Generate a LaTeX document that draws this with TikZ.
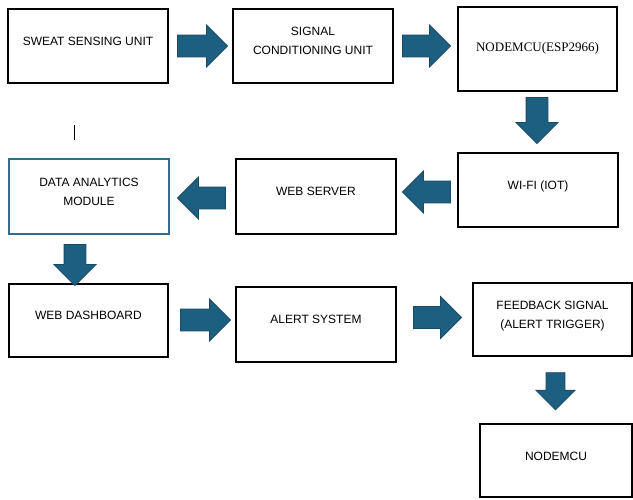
\documentclass[tikz,border=0pt]{standalone}
\usepackage{fontspec}
\setmainfont{Liberation Sans}
\newfontfamily\timesfont{Liberation Serif}
\definecolor{ArrowBlue}{HTML}{1D5F80}
\definecolor{ArrowEdge}{HTML}{174A63}
\definecolor{BoxBlue}{HTML}{2F6E93}
\usetikzlibrary{shapes.arrows}

\begin{document}
\begin{tikzpicture}[x=1pt,y=-1pt,
  box/.style={draw=black,line width=1.1pt,align=center,inner sep=0pt,text depth=10pt,
              minimum width=160pt,minimum height=74pt,font=\fontsize{12}{19}\selectfont},
  blockarrow/.style={single arrow,draw=ArrowEdge,fill=ArrowBlue,line width=0.8pt,
              inner xsep=0pt,inner ysep=10.5pt,minimum width=42pt,minimum height=48pt,
              single arrow head extend=10pt},
  downarrow/.style={blockarrow,inner xsep=10.5pt,inner ysep=0pt,shape border rotate=270}]
\useasboundingbox (0,0) rectangle (633,499);
% first row
\node[box] (sweat) at (88,46) {SWEAT SENSING UNIT};
\node[box] (signal) at (313,46) {SIGNAL\\CONDITIONING UNIT};
\node[box, minimum width=159pt, minimum height=84pt, text depth=4pt, font=\timesfont\fontsize{13}{16}\selectfont] (mcu) at (537.5,49) {NODEMCU(ESP2966)};
% second row
\node[box] (wifi) at (538,190) {WI-FI (IOT)};
\node[box, minimum height=75pt] (server) at (316,196.5) {WEB SERVER};
\node[box, draw=BoxBlue, line width=1.1pt, minimum height=75pt] (analytics) at (89,196.5) {DATA ANALYTICS\\MODULE};
\coordinate (cursor) at (74,125);
\draw[line width=0.7pt] (cursor) -- ++(0,15);
% third row
\node[box, minimum width=159pt, minimum height=73pt] (dashboard) at (88.5,320.5) {WEB DASHBOARD};
\node[box, minimum height=75pt] (alert) at (316,324.5) {ALERT SYSTEM};
\node[box, minimum width=159pt, minimum height=73pt] (feedback) at (552.5,319.5) {FEEDBACK SIGNAL\\(ALERT TRIGGER)};
\node[box, minimum width=152pt, minimum height=73pt, text depth=8pt] (mcutwo) at (556,460.5) {NODEMCU};
% block arrows
\node[blockarrow, minimum height=50pt] (a1) at (197,46) {};
\node[blockarrow] (a2) at (421,46) {};
\node[downarrow, minimum height=46pt, minimum width=40pt] (a3) at (537,115) {};
\node[blockarrow, shape border rotate=180] (a4) at (432,192) {};
\node[blockarrow, shape border rotate=180] (a5) at (207,198) {};
\node[downarrow, minimum height=41pt, minimum width=38pt] (a6) at (75,259.5) {};
\node[blockarrow, minimum height=50pt] (a7) at (200,320) {};
\node[blockarrow] (a8) at (432,317.5) {};
\node[downarrow, minimum height=37pt, minimum width=39pt, inner xsep=9pt] (a9) at (555.5,386.5) {};
\end{tikzpicture}
\end{document}
